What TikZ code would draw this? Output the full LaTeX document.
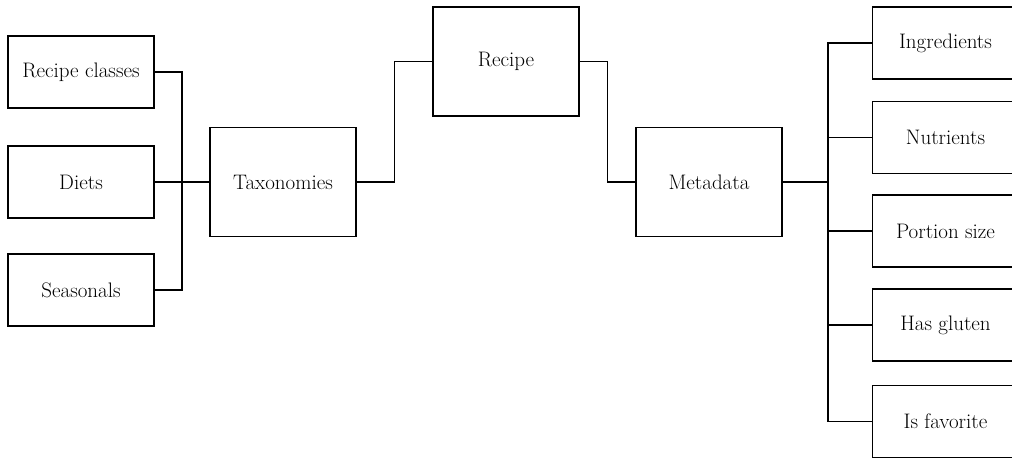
\documentclass[tikz,border=0pt]{standalone}
\usetikzlibrary{calc}
\begin{document}
\begin{tikzpicture}[x=1pt,y=-1pt,
  box/.style={draw, line width=1.2pt, rectangle, inner sep=0pt, align=center,
    font=\fontsize{21}{24}\selectfont},
  small/.style={box, minimum width=146pt, minimum height=72pt},
  large/.style={box, minimum width=146pt, minimum height=109pt},
  wire/.style={line width=1.2pt}]
\useasboundingbox (0,0) rectangle (1012,459);
\clip (0,0) rectangle (1012,459);

% left column
\node[small] (rc)    at (81,72)    {Recipe classes};
\node[small] (diets) at (81,182)   {Diets};
\node[small] (seas)  at (81,290)   {Seasonals};

% middle
\node[large] (tax)    at (283,182)  {Taxonomies};
\node[large] (recipe) at (506,61.5) {Recipe};
\node[large] (meta)   at (709,182)  {Metadata};

% right column
\node[small] (ingr) at (945.5,43)    {Ingredients};
\node[small] (nutr) at (945.5,137.5) {Nutrients};
\node[small] (port) at (945.5,231)   {Portion size};
\node[small] (glut) at (945.5,325)   {Has gluten};
\node[small] (fav)  at (945.5,421.5) {Is favorite};

% bus coordinates
\coordinate (lb) at (182,182);
\coordinate (rb) at (828,182);

% connectors
\draw[wire] (rc.east) -| (lb) |- (seas.east);
\draw[wire] (diets.east) -- (tax.west);
\draw[wire] (tax.east) -- ++(38,0) |- (recipe.west);
\draw[wire] (recipe.east) -- ++(28,0) |- (meta.west);
\draw[wire] (meta.east) -- (rb);
\draw[wire] (ingr.west) -| (rb) |- (fav.west);
\foreach \n in {nutr,port,glut}
  \draw[wire] (\n.west) -- (\n.west -| rb);
\end{tikzpicture}
\end{document}
